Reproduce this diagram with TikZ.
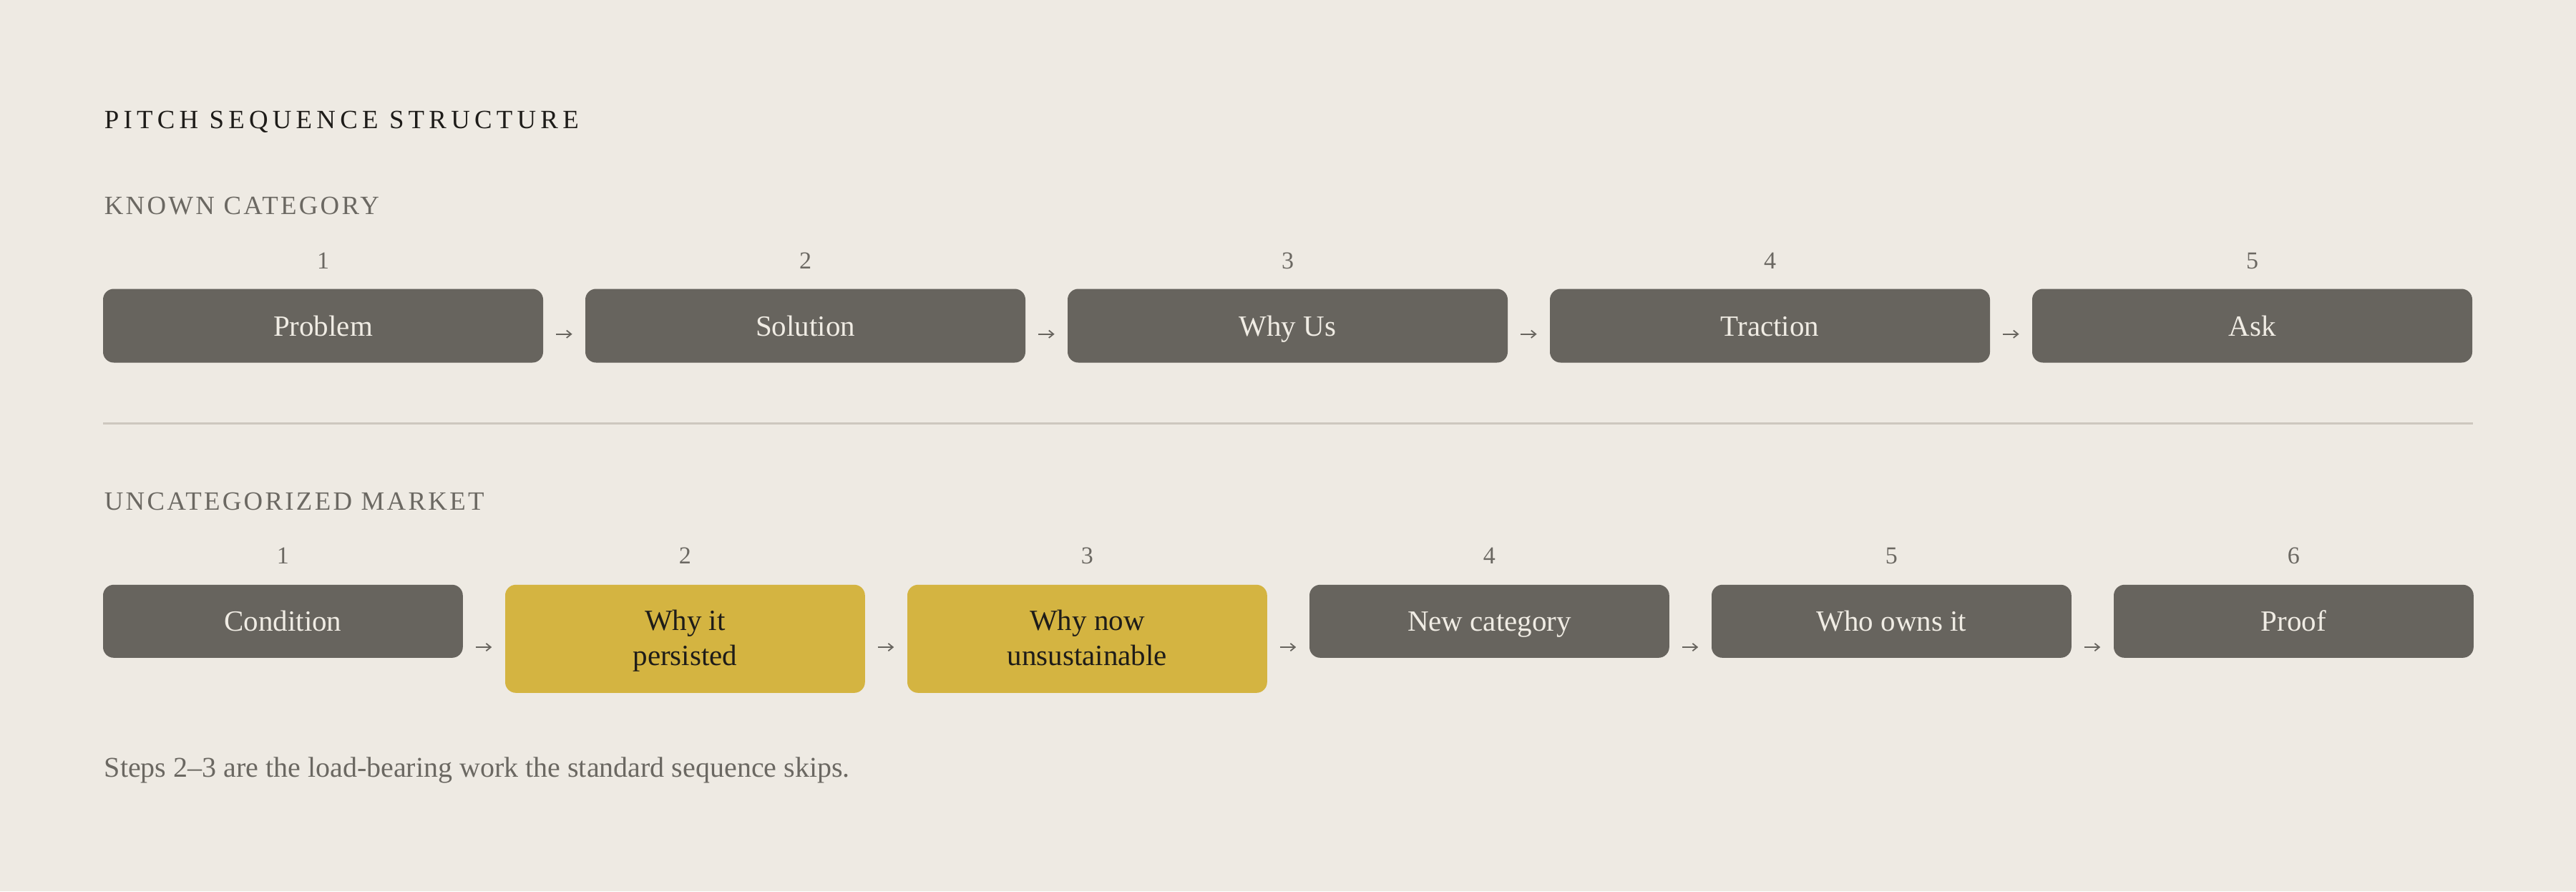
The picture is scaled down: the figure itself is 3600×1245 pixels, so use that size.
\documentclass[tikz,border=0pt]{standalone}
\usepackage{fontspec}
\setmainfont{Liberation Serif}
\newfontfamily\titlefont[LetterSpace=17]{Liberation Serif}
\newfontfamily\secfont[LetterSpace=9]{Liberation Serif}
\usetikzlibrary{arrows.meta}
\definecolor{bg}{HTML}{EEEAE3}
\definecolor{boxgray}{HTML}{67645E}
\definecolor{boxtext}{HTML}{F0ECE4}
\definecolor{hiyellow}{HTML}{D4B441}
\definecolor{darktext}{HTML}{1E1C19}
\definecolor{muted}{HTML}{6B6862}
\definecolor{rule}{HTML}{CDC7BF}
\tikzset{
  box/.style={rounded corners=3.75pt, inner sep=0pt, anchor=north, text=boxtext, fill=boxgray,
    font=\fontsize{10.25pt}{12.25pt}\selectfont, text height=7pt, text depth=0pt},
  topbox/.style={box, minimum width=153.75pt, minimum height=25.75pt},
  botbox/.style={box, minimum width=125.7pt, minimum height=25.5pt},
  hibox/.style={botbox, fill=hiyellow, text=darktext, minimum height=37.75pt, align=center,
    text height=19.25pt, text depth=0.5pt},
  num/.style={anchor=base, text=muted, inner sep=0pt, font=\fontsize{8.5pt}{10pt}\selectfont},
  conn/.style={draw=boxgray, line width=0.45pt, -{Straight Barb[length=1.6pt,width=2.6pt]}},
  titletext/.style={anchor=base west, inner sep=0pt, text=darktext, font=\titlefont\fontsize{9.2pt}{11pt}\selectfont},
  sectext/.style={anchor=base west, inner sep=0pt, text=muted, font=\secfont\fontsize{9.2pt}{11pt}\selectfont},
  notetext/.style={anchor=base west, inner sep=0pt, text=muted, font=\fontsize{10pt}{12pt}\selectfont},
}
\begin{document}
\begin{tikzpicture}[x=0.25pt,y=-0.25pt]
\fill[bg] (0,0) rectangle (3600,1245);
\useasboundingbox (0,0) rectangle (3600,1245);

\node[titletext] (title) at (145,179) {PITCH SEQUENCE STRUCTURE};
\node[sectext] (known) at (145,299) {KNOWN CATEGORY};

% top row
\node[topbox] (t1) at (451.5,402.7) {Problem};
\node[topbox] (t2) at (1125.5,402.7) {Solution};
\node[topbox] (t3) at (1799.5,402.7) {Why Us};
\node[topbox] (t4) at (2473.5,402.7) {Traction};
\node[topbox] (t5) at (3147.5,402.7) {Ask};
\node[num] (tn1) at (451.5,375) {1};
\node[num] (tn2) at (1125.5,375) {2};
\node[num] (tn3) at (1799.5,375) {3};
\node[num] (tn4) at (2473.5,375) {4};
\node[num] (tn5) at (3147.5,375) {5};
\foreach \a/\b in {t1/t2,t2/t3,t3/t4,t4/t5}
  \draw[conn, shorten <=4.25pt, shorten >=4.4pt] ([yshift=-16pt]\a.north east) -- ([yshift=-16pt]\b.north west);

% divider
\coordinate (dl) at (144,591.3);
\coordinate (dr) at (3456,591.3);
\draw[rule, line width=0.75pt] (dl) -- (dr);

\node[sectext] (uncat) at (145,712) {UNCATEGORIZED MARKET};

% bottom row
\node[botbox] (b1) at (395.4,816) {Condition};
\node[hibox] (b2) at (957.4,816) {Why it\\persisted};
\node[hibox] (b3) at (1519.4,816) {Why now\\unsustainable};
\node[botbox] (b4) at (2081.4,816) {New category};
\node[botbox] (b5) at (2643.4,816) {Who owns it};
\node[botbox] (b6) at (3205.4,816) {Proof};
\node[num] (bn1) at (395.4,787.5) {1};
\node[num] (bn2) at (957.4,787.5) {2};
\node[num] (bn3) at (1519.4,787.5) {3};
\node[num] (bn4) at (2081.4,787.5) {4};
\node[num] (bn5) at (2643.4,787.5) {5};
\node[num] (bn6) at (3205.4,787.5) {6};
\foreach \a/\b in {b1/b2,b2/b3,b3/b4,b4/b5,b5/b6}
  \draw[conn, shorten <=4.3pt, shorten >=4.5pt] ([yshift=-22pt]\a.north east) -- ([yshift=-22pt]\b.north west);

\node[notetext] (note) at (145,1085) {Steps 2–3 are the load-bearing work the standard sequence skips.};
\end{tikzpicture}
\end{document}
